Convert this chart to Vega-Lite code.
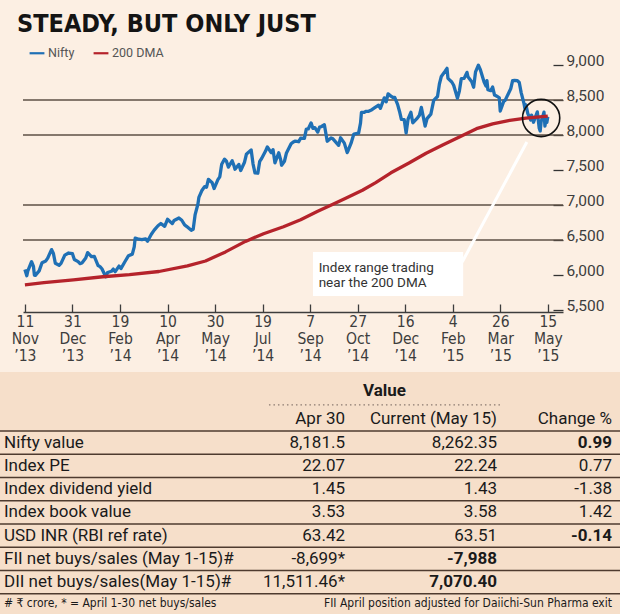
{
  "$schema": "https://vega.github.io/schema/vega-lite/v6.json",
  "width": 620,
  "height": 574,
  "autosize": {"type": "none"},
  "padding": {"top": 40, "left": 0, "right": 0, "bottom": 0},
  "background": "#fcefe3",
  "config": {"view": {"stroke": null}, "font": "Roboto, sans-serif"},
  "title": {"text": "STEADY, BUT ONLY JUST", "anchor": "start", "frame": "group", "dx": 17, "font": "DejaVu Sans Condensed, sans-serif", "fontSize": 25, "fontWeight": "bold", "color": "#141414", "offset": 3},
  "datasets": {
    "index": [
      {"date": "2013-11-11", "series": "Nifty", "value": 6078},
      {"date": "2013-11-13", "series": "Nifty", "value": 5990},
      {"date": "2013-11-14", "series": "Nifty", "value": 6056},
      {"date": "2013-11-18", "series": "Nifty", "value": 6190},
      {"date": "2013-11-20", "series": "Nifty", "value": 6122},
      {"date": "2013-11-21", "series": "Nifty", "value": 5999},
      {"date": "2013-11-22", "series": "Nifty", "value": 5995},
      {"date": "2013-11-26", "series": "Nifty", "value": 6059},
      {"date": "2013-11-29", "series": "Nifty", "value": 6176},
      {"date": "2013-12-03", "series": "Nifty", "value": 6201},
      {"date": "2013-12-05", "series": "Nifty", "value": 6241},
      {"date": "2013-12-09", "series": "Nifty", "value": 6363},
      {"date": "2013-12-11", "series": "Nifty", "value": 6307},
      {"date": "2013-12-13", "series": "Nifty", "value": 6168},
      {"date": "2013-12-17", "series": "Nifty", "value": 6139},
      {"date": "2013-12-19", "series": "Nifty", "value": 6166},
      {"date": "2013-12-23", "series": "Nifty", "value": 6284},
      {"date": "2013-12-27", "series": "Nifty", "value": 6314},
      {"date": "2013-12-31", "series": "Nifty", "value": 6304},
      {"date": "2014-01-02", "series": "Nifty", "value": 6221},
      {"date": "2014-01-06", "series": "Nifty", "value": 6191},
      {"date": "2014-01-08", "series": "Nifty", "value": 6162},
      {"date": "2014-01-10", "series": "Nifty", "value": 6171},
      {"date": "2014-01-14", "series": "Nifty", "value": 6242},
      {"date": "2014-01-16", "series": "Nifty", "value": 6320},
      {"date": "2014-01-20", "series": "Nifty", "value": 6262},
      {"date": "2014-01-23", "series": "Nifty", "value": 6266},
      {"date": "2014-01-27", "series": "Nifty", "value": 6135},
      {"date": "2014-01-29", "series": "Nifty", "value": 6120},
      {"date": "2014-01-31", "series": "Nifty", "value": 6089},
      {"date": "2014-02-04", "series": "Nifty", "value": 5974},
      {"date": "2014-02-06", "series": "Nifty", "value": 6036},
      {"date": "2014-02-10", "series": "Nifty", "value": 6053},
      {"date": "2014-02-12", "series": "Nifty", "value": 6084},
      {"date": "2014-02-14", "series": "Nifty", "value": 6048},
      {"date": "2014-02-18", "series": "Nifty", "value": 6127},
      {"date": "2014-02-20", "series": "Nifty", "value": 6091},
      {"date": "2014-02-24", "series": "Nifty", "value": 6186},
      {"date": "2014-02-28", "series": "Nifty", "value": 6276},
      {"date": "2014-03-04", "series": "Nifty", "value": 6298},
      {"date": "2014-03-06", "series": "Nifty", "value": 6401},
      {"date": "2014-03-07", "series": "Nifty", "value": 6527},
      {"date": "2014-03-11", "series": "Nifty", "value": 6511},
      {"date": "2014-03-14", "series": "Nifty", "value": 6504},
      {"date": "2014-03-18", "series": "Nifty", "value": 6516},
      {"date": "2014-03-20", "series": "Nifty", "value": 6483},
      {"date": "2014-03-24", "series": "Nifty", "value": 6583},
      {"date": "2014-03-27", "series": "Nifty", "value": 6641},
      {"date": "2014-03-31", "series": "Nifty", "value": 6704},
      {"date": "2014-04-03", "series": "Nifty", "value": 6736},
      {"date": "2014-04-07", "series": "Nifty", "value": 6695},
      {"date": "2014-04-10", "series": "Nifty", "value": 6796},
      {"date": "2014-04-15", "series": "Nifty", "value": 6734},
      {"date": "2014-04-17", "series": "Nifty", "value": 6779},
      {"date": "2014-04-22", "series": "Nifty", "value": 6815},
      {"date": "2014-04-25", "series": "Nifty", "value": 6782},
      {"date": "2014-04-28", "series": "Nifty", "value": 6715},
      {"date": "2014-04-30", "series": "Nifty", "value": 6696},
      {"date": "2014-05-05", "series": "Nifty", "value": 6638},
      {"date": "2014-05-07", "series": "Nifty", "value": 6652},
      {"date": "2014-05-09", "series": "Nifty", "value": 6858},
      {"date": "2014-05-12", "series": "Nifty", "value": 7014},
      {"date": "2014-05-13", "series": "Nifty", "value": 7109},
      {"date": "2014-05-16", "series": "Nifty", "value": 7203},
      {"date": "2014-05-19", "series": "Nifty", "value": 7263},
      {"date": "2014-05-21", "series": "Nifty", "value": 7253},
      {"date": "2014-05-23", "series": "Nifty", "value": 7367},
      {"date": "2014-05-27", "series": "Nifty", "value": 7318},
      {"date": "2014-05-29", "series": "Nifty", "value": 7235},
      {"date": "2014-06-02", "series": "Nifty", "value": 7362},
      {"date": "2014-06-04", "series": "Nifty", "value": 7402},
      {"date": "2014-06-06", "series": "Nifty", "value": 7583},
      {"date": "2014-06-09", "series": "Nifty", "value": 7655},
      {"date": "2014-06-11", "series": "Nifty", "value": 7626},
      {"date": "2014-06-13", "series": "Nifty", "value": 7542},
      {"date": "2014-06-17", "series": "Nifty", "value": 7632},
      {"date": "2014-06-19", "series": "Nifty", "value": 7558},
      {"date": "2014-06-20", "series": "Nifty", "value": 7511},
      {"date": "2014-06-24", "series": "Nifty", "value": 7580},
      {"date": "2014-06-26", "series": "Nifty", "value": 7493},
      {"date": "2014-06-30", "series": "Nifty", "value": 7611},
      {"date": "2014-07-02", "series": "Nifty", "value": 7725},
      {"date": "2014-07-04", "series": "Nifty", "value": 7751},
      {"date": "2014-07-07", "series": "Nifty", "value": 7787},
      {"date": "2014-07-09", "series": "Nifty", "value": 7585},
      {"date": "2014-07-11", "series": "Nifty", "value": 7460},
      {"date": "2014-07-14", "series": "Nifty", "value": 7454},
      {"date": "2014-07-16", "series": "Nifty", "value": 7624},
      {"date": "2014-07-18", "series": "Nifty", "value": 7664},
      {"date": "2014-07-22", "series": "Nifty", "value": 7767},
      {"date": "2014-07-24", "series": "Nifty", "value": 7830},
      {"date": "2014-07-28", "series": "Nifty", "value": 7748},
      {"date": "2014-07-30", "series": "Nifty", "value": 7791},
      {"date": "2014-08-01", "series": "Nifty", "value": 7602},
      {"date": "2014-08-05", "series": "Nifty", "value": 7747},
      {"date": "2014-08-07", "series": "Nifty", "value": 7649},
      {"date": "2014-08-08", "series": "Nifty", "value": 7568},
      {"date": "2014-08-11", "series": "Nifty", "value": 7625},
      {"date": "2014-08-13", "series": "Nifty", "value": 7739},
      {"date": "2014-08-18", "series": "Nifty", "value": 7874},
      {"date": "2014-08-20", "series": "Nifty", "value": 7897},
      {"date": "2014-08-22", "series": "Nifty", "value": 7913},
      {"date": "2014-08-26", "series": "Nifty", "value": 7904},
      {"date": "2014-08-28", "series": "Nifty", "value": 7954},
      {"date": "2014-09-01", "series": "Nifty", "value": 7951},
      {"date": "2014-09-03", "series": "Nifty", "value": 8083},
      {"date": "2014-09-05", "series": "Nifty", "value": 8086},
      {"date": "2014-09-08", "series": "Nifty", "value": 8173},
      {"date": "2014-09-10", "series": "Nifty", "value": 8094},
      {"date": "2014-09-12", "series": "Nifty", "value": 8105},
      {"date": "2014-09-15", "series": "Nifty", "value": 8042},
      {"date": "2014-09-17", "series": "Nifty", "value": 8114},
      {"date": "2014-09-19", "series": "Nifty", "value": 8121},
      {"date": "2014-09-22", "series": "Nifty", "value": 8146},
      {"date": "2014-09-25", "series": "Nifty", "value": 7911},
      {"date": "2014-09-29", "series": "Nifty", "value": 7958},
      {"date": "2014-10-01", "series": "Nifty", "value": 7945},
      {"date": "2014-10-07", "series": "Nifty", "value": 7852},
      {"date": "2014-10-09", "series": "Nifty", "value": 7960},
      {"date": "2014-10-13", "series": "Nifty", "value": 7884},
      {"date": "2014-10-16", "series": "Nifty", "value": 7748},
      {"date": "2014-10-17", "series": "Nifty", "value": 7779},
      {"date": "2014-10-20", "series": "Nifty", "value": 7879},
      {"date": "2014-10-23", "series": "Nifty", "value": 8014},
      {"date": "2014-10-28", "series": "Nifty", "value": 8027},
      {"date": "2014-10-30", "series": "Nifty", "value": 8170},
      {"date": "2014-10-31", "series": "Nifty", "value": 8322},
      {"date": "2014-11-03", "series": "Nifty", "value": 8324},
      {"date": "2014-11-05", "series": "Nifty", "value": 8338},
      {"date": "2014-11-07", "series": "Nifty", "value": 8337},
      {"date": "2014-11-11", "series": "Nifty", "value": 8362},
      {"date": "2014-11-14", "series": "Nifty", "value": 8390},
      {"date": "2014-11-18", "series": "Nifty", "value": 8425},
      {"date": "2014-11-20", "series": "Nifty", "value": 8382},
      {"date": "2014-11-24", "series": "Nifty", "value": 8530},
      {"date": "2014-11-26", "series": "Nifty", "value": 8475},
      {"date": "2014-11-28", "series": "Nifty", "value": 8588},
      {"date": "2014-12-01", "series": "Nifty", "value": 8556},
      {"date": "2014-12-03", "series": "Nifty", "value": 8537},
      {"date": "2014-12-05", "series": "Nifty", "value": 8538},
      {"date": "2014-12-08", "series": "Nifty", "value": 8438},
      {"date": "2014-12-10", "series": "Nifty", "value": 8340},
      {"date": "2014-12-12", "series": "Nifty", "value": 8224},
      {"date": "2014-12-15", "series": "Nifty", "value": 8219},
      {"date": "2014-12-17", "series": "Nifty", "value": 8029},
      {"date": "2014-12-19", "series": "Nifty", "value": 8225},
      {"date": "2014-12-22", "series": "Nifty", "value": 8324},
      {"date": "2014-12-24", "series": "Nifty", "value": 8174},
      {"date": "2014-12-29", "series": "Nifty", "value": 8246},
      {"date": "2014-12-31", "series": "Nifty", "value": 8283},
      {"date": "2015-01-02", "series": "Nifty", "value": 8395},
      {"date": "2015-01-06", "series": "Nifty", "value": 8127},
      {"date": "2015-01-08", "series": "Nifty", "value": 8234},
      {"date": "2015-01-12", "series": "Nifty", "value": 8299},
      {"date": "2015-01-15", "series": "Nifty", "value": 8494},
      {"date": "2015-01-19", "series": "Nifty", "value": 8550},
      {"date": "2015-01-21", "series": "Nifty", "value": 8729},
      {"date": "2015-01-23", "series": "Nifty", "value": 8836},
      {"date": "2015-01-27", "series": "Nifty", "value": 8911},
      {"date": "2015-01-29", "series": "Nifty", "value": 8952},
      {"date": "2015-01-30", "series": "Nifty", "value": 8809},
      {"date": "2015-02-03", "series": "Nifty", "value": 8757},
      {"date": "2015-02-05", "series": "Nifty", "value": 8711},
      {"date": "2015-02-09", "series": "Nifty", "value": 8526},
      {"date": "2015-02-11", "series": "Nifty", "value": 8627},
      {"date": "2015-02-13", "series": "Nifty", "value": 8805},
      {"date": "2015-02-16", "series": "Nifty", "value": 8809},
      {"date": "2015-02-19", "series": "Nifty", "value": 8895},
      {"date": "2015-02-20", "series": "Nifty", "value": 8833},
      {"date": "2015-02-24", "series": "Nifty", "value": 8762},
      {"date": "2015-02-26", "series": "Nifty", "value": 8683},
      {"date": "2015-02-28", "series": "Nifty", "value": 8902},
      {"date": "2015-03-03", "series": "Nifty", "value": 8996},
      {"date": "2015-03-05", "series": "Nifty", "value": 8937},
      {"date": "2015-03-09", "series": "Nifty", "value": 8756},
      {"date": "2015-03-11", "series": "Nifty", "value": 8699},
      {"date": "2015-03-12", "series": "Nifty", "value": 8776},
      {"date": "2015-03-13", "series": "Nifty", "value": 8647},
      {"date": "2015-03-16", "series": "Nifty", "value": 8633},
      {"date": "2015-03-18", "series": "Nifty", "value": 8685},
      {"date": "2015-03-20", "series": "Nifty", "value": 8571},
      {"date": "2015-03-23", "series": "Nifty", "value": 8550},
      {"date": "2015-03-25", "series": "Nifty", "value": 8530},
      {"date": "2015-03-26", "series": "Nifty", "value": 8342},
      {"date": "2015-03-30", "series": "Nifty", "value": 8492},
      {"date": "2015-03-31", "series": "Nifty", "value": 8491},
      {"date": "2015-04-06", "series": "Nifty", "value": 8660},
      {"date": "2015-04-08", "series": "Nifty", "value": 8778},
      {"date": "2015-04-10", "series": "Nifty", "value": 8780},
      {"date": "2015-04-13", "series": "Nifty", "value": 8778},
      {"date": "2015-04-15", "series": "Nifty", "value": 8750},
      {"date": "2015-04-17", "series": "Nifty", "value": 8606},
      {"date": "2015-04-20", "series": "Nifty", "value": 8448},
      {"date": "2015-04-21", "series": "Nifty", "value": 8377},
      {"date": "2015-04-22", "series": "Nifty", "value": 8429},
      {"date": "2015-04-24", "series": "Nifty", "value": 8305},
      {"date": "2015-04-27", "series": "Nifty", "value": 8213},
      {"date": "2015-04-28", "series": "Nifty", "value": 8285},
      {"date": "2015-04-30", "series": "Nifty", "value": 8182},
      {"date": "2015-05-04", "series": "Nifty", "value": 8331},
      {"date": "2015-05-06", "series": "Nifty", "value": 8097},
      {"date": "2015-05-07", "series": "Nifty", "value": 8057},
      {"date": "2015-05-08", "series": "Nifty", "value": 8191},
      {"date": "2015-05-11", "series": "Nifty", "value": 8326},
      {"date": "2015-05-12", "series": "Nifty", "value": 8127},
      {"date": "2015-05-13", "series": "Nifty", "value": 8224},
      {"date": "2015-05-14", "series": "Nifty", "value": 8179},
      {"date": "2015-05-15", "series": "Nifty", "value": 8262},
      {"date": "2013-11-11", "series": "200 DMA", "value": 5860},
      {"date": "2013-12-01", "series": "200 DMA", "value": 5890},
      {"date": "2014-01-01", "series": "200 DMA", "value": 5930},
      {"date": "2014-02-01", "series": "200 DMA", "value": 5975},
      {"date": "2014-03-01", "series": "200 DMA", "value": 6005},
      {"date": "2014-04-01", "series": "200 DMA", "value": 6050},
      {"date": "2014-05-01", "series": "200 DMA", "value": 6130},
      {"date": "2014-05-20", "series": "200 DMA", "value": 6200},
      {"date": "2014-06-10", "series": "200 DMA", "value": 6330},
      {"date": "2014-07-01", "series": "200 DMA", "value": 6480},
      {"date": "2014-07-20", "series": "200 DMA", "value": 6590},
      {"date": "2014-08-10", "series": "200 DMA", "value": 6690},
      {"date": "2014-08-28", "series": "200 DMA", "value": 6790},
      {"date": "2014-09-15", "series": "200 DMA", "value": 6910},
      {"date": "2014-10-01", "series": "200 DMA", "value": 7010},
      {"date": "2014-10-15", "series": "200 DMA", "value": 7100},
      {"date": "2014-11-01", "series": "200 DMA", "value": 7210},
      {"date": "2014-11-15", "series": "200 DMA", "value": 7320},
      {"date": "2014-12-01", "series": "200 DMA", "value": 7460},
      {"date": "2014-12-20", "series": "200 DMA", "value": 7600},
      {"date": "2015-01-07", "series": "200 DMA", "value": 7740},
      {"date": "2015-01-25", "series": "200 DMA", "value": 7860},
      {"date": "2015-02-11", "series": "200 DMA", "value": 7970},
      {"date": "2015-03-01", "series": "200 DMA", "value": 8090},
      {"date": "2015-03-18", "series": "200 DMA", "value": 8160},
      {"date": "2015-04-05", "series": "200 DMA", "value": 8210},
      {"date": "2015-04-22", "series": "200 DMA", "value": 8240},
      {"date": "2015-05-15", "series": "200 DMA", "value": 8270}
    ],
    "table": [
      {"row": 1, "metric": "Nifty value", "apr": "8,181.5", "cur": "8,262.35", "chg": "0.99"},
      {"row": 2, "metric": "Index PE", "apr": "22.07", "cur": "22.24", "chg": "0.77"},
      {"row": 3, "metric": "Index dividend yield", "apr": "1.45", "cur": "1.43", "chg": "-1.38"},
      {"row": 4, "metric": "Index book value", "apr": "3.53", "cur": "3.58", "chg": "1.42"},
      {"row": 5, "metric": "USD INR (RBI ref rate)", "apr": "63.42", "cur": "63.51", "chg": "-0.14"},
      {"row": 6, "metric": "FII net buys/sales (May 1-15)#", "apr": "-8,699*", "cur": "-7,988", "chg": ""},
      {"row": 7, "metric": "DII net buys/sales(May 1-15)#", "apr": "11,511.46*", "cur": "7,070.40", "chg": ""}
    ],
    "headers": [
      {"col": 1, "label": "Apr 30"},
      {"col": 2, "label": "Current (May 15)"},
      {"col": 3, "label": "Change %"}
    ]
  },
  "resolve": {"scale": {"x": "independent", "y": "independent", "color": "independent"}},
  "layer": [
    {
      "layer": [
        {
          "data": {"values": [{"level": 6500}, {"level": 7000}, {"level": 8000}, {"level": 8500}]},
          "mark": {"type": "rule", "color": "#5e5046", "strokeWidth": 1.5},
          "encoding": {
            "x": {"datum": {"year": 2013, "month": 11, "date": 9, "utc": true}, "type": "temporal", "scale": {"type": "utc", "domain": [{"year": 2013, "month": 11, "date": 9, "utc": true}, {"year": 2015, "month": 5, "date": 31, "utc": true}], "range": [23, 563]}},
            "x2": {"datum": {"year": 2015, "month": 5, "date": 31, "utc": true}},
            "y": {"field": "level", "type": "quantitative", "scale": {"domain": [5500, 9000], "range": [270, 25], "nice": false, "zero": false}}
          }
        },
        {
          "data": {"name": "index"},
          "mark": {"type": "line", "strokeWidth": 3.3, "strokeJoin": "round"},
          "encoding": {
            "x": {"field": "date", "type": "temporal", "scale": {"type": "utc", "domain": [{"year": 2013, "month": 11, "date": 9, "utc": true}, {"year": 2015, "month": 5, "date": 31, "utc": true}], "range": [23, 563]},
              "axis": {"orient": "bottom", "offset": -302, "title": null, "grid": false,
                "values": [{"year": 2013, "month": 11, "date": 11, "utc": true}, {"year": 2013, "month": 12, "date": 31, "utc": true}, {"year": 2014, "month": 2, "date": 19, "utc": true}, {"year": 2014, "month": 4, "date": 10, "utc": true}, {"year": 2014, "month": 5, "date": 30, "utc": true}, {"year": 2014, "month": 7, "date": 19, "utc": true}, {"year": 2014, "month": 9, "date": 7, "utc": true}, {"year": 2014, "month": 10, "date": 27, "utc": true}, {"year": 2014, "month": 12, "date": 16, "utc": true}, {"year": 2015, "month": 2, "date": 4, "utc": true}, {"year": 2015, "month": 3, "date": 26, "utc": true}, {"year": 2015, "month": 5, "date": 15, "utc": true}],
                "labelExpr": "[utcFormat(datum.value, '%-d'), utcFormat(datum.value, '%b'), '\u2019' + utcFormat(datum.value, '%y')]",
                "labelFont": "DejaVu Sans Condensed, sans-serif", "labelFontSize": 15.5, "labelLineHeight": 17, "labelColor": "#3d3d3d", "labelPadding": 10, "labelAngle": 0, "labelOverlap": false, "labelFlush": false, "labelBound": false,
                "tickSize": -8, "tickColor": "#3d3d3d", "tickWidth": 1.3, "domainColor": "#3d3d3d", "domainWidth": 1.5}},
            "y": {"field": "value", "type": "quantitative", "scale": {"domain": [5500, 9000], "range": [270, 25], "nice": false, "zero": false},
              "axis": {"orient": "right", "offset": -67, "title": null, "grid": false, "domain": false, "values": [5500, 6000, 6500, 7000, 7500, 8000, 8500, 9000], "format": ",.0f",
                "tickSize": 10, "tickColor": "#333333", "tickWidth": 1.3, "labelPadding": 3, "labelBaseline": "alphabetic", "labelAlign": "left", "labelFont": "Roboto", "labelFontSize": 15.5, "labelColor": "#3d3d3d", "labelFlush": false, "labelOverlap": false, "labelBound": false}},
            "color": {"field": "series", "type": "nominal", "scale": {"domain": ["Nifty", "200 DMA"], "range": ["#1f70b5", "#b5232b"]},
              "legend": {"orient": "none", "legendX": 28, "legendY": 4, "direction": "horizontal", "title": null, "symbolType": "stroke", "symbolSize": 220, "symbolStrokeWidth": 2.2, "labelFont": "Roboto", "labelFontSize": 12.5, "labelColor": "#555555", "columnPadding": 14, "labelOffset": 2, "padding": 0}}
          }
        },
        {
          "data": {"values": [{}]},
          "mark": {"type": "rule", "color": "#ffffff", "strokeWidth": 3},
          "encoding": {
            "x": {"datum": {"year": 2015, "month": 2, "date": 14, "utc": true}, "type": "temporal"},
            "x2": {"datum": {"year": 2015, "month": 4, "date": 23, "utc": true}},
            "y": {"datum": 6186, "type": "quantitative"},
            "y2": {"datum": 7900}
          }
        },
        {
          "data": {"values": [{}]},
          "mark": {"type": "rect", "fill": "#ffffff"},
          "encoding": {
            "x": {"datum": {"year": 2014, "month": 9, "date": 10, "utc": true}, "type": "temporal"},
            "x2": {"datum": {"year": 2015, "month": 2, "date": 15, "utc": true}},
            "y": {"datum": 6329, "type": "quantitative"},
            "y2": {"datum": 5700}
          }
        },
        {
          "data": {"values": [{}]},
          "mark": {"type": "text", "text": ["Index range trading", "near the 200 DMA"], "align": "left", "baseline": "alphabetic", "font": "Roboto", "fontSize": 13.5, "lineHeight": 15, "color": "#333333"},
          "encoding": {
            "x": {"datum": {"year": 2014, "month": 9, "date": 16, "utc": true}, "type": "temporal"},
            "y": {"datum": 6050, "type": "quantitative"}
          }
        },
        {
          "data": {"values": [{}]},
          "mark": {"type": "point", "shape": "circle", "filled": false, "stroke": "#111111", "strokeWidth": 1.6, "size": 1385, "opacity": 1},
          "encoding": {
            "x": {"datum": {"year": 2015, "month": 5, "date": 8, "utc": true}, "type": "temporal"},
            "y": {"datum": 8243, "type": "quantitative"}
          }
        }
      ]
    },
    {
      "layer": [
        {
          "data": {"values": [{}]},
          "mark": {"type": "rect", "fill": "#f6dfca"},
          "encoding": {
            "y": {"datum": -2.03, "type": "quantitative", "scale": {"type": "linear", "domain": [0, 8], "range": [379.25, 565.25], "nice": false, "zero": false}, "axis": null},
            "y2": {"datum": 8.6}
          }
        },
        {
          "data": {"values": [{}]},
          "mark": {"type": "rule", "color": "#4e3b2f", "strokeWidth": 1.5},
          "encoding": {
            "y": {"datum": 0.5, "type": "quantitative", "scale": {"type": "linear", "domain": [0, 8], "range": [379.25, 565.25], "nice": false, "zero": false}, "axis": null}
          }
        },
        {
          "data": {"values": [{}]},
          "mark": {"type": "rule", "color": "#8a7a70", "strokeWidth": 1.2, "strokeDash": [1.5, 3]},
          "encoding": {
            "x": {"datum": 0.777, "type": "quantitative", "scale": {"type": "linear", "domain": [0, 1, 2, 3], "range": [4, 345, 497, 612], "nice": false, "zero": false}, "axis": null},
            "x2": {"datum": 2.04},
            "y": {"datum": -0.62, "type": "quantitative", "scale": {"type": "linear", "domain": [0, 8], "range": [379.25, 565.25], "nice": false, "zero": false}, "axis": null}
          }
        },
        {
          "data": {"values": [{}]},
          "mark": {"type": "text", "text": "Value", "fontWeight": "bold", "align": "center", "baseline": "middle", "fontSize": 17, "color": "#1a1a1a"},
          "encoding": {
            "x": {"datum": 1.26, "type": "quantitative", "scale": {"type": "linear", "domain": [0, 1, 2, 3], "range": [4, 345, 497, 612], "nice": false, "zero": false}, "axis": null},
            "y": {"datum": -1.2, "type": "quantitative", "scale": {"type": "linear", "domain": [0, 8], "range": [379.25, 565.25], "nice": false, "zero": false}, "axis": null}
          }
        },
        {
          "data": {"name": "headers"},
          "mark": {"type": "text", "align": "right", "baseline": "middle", "fontSize": 17, "color": "#1a1a1a"},
          "encoding": {
            "x": {"field": "col", "type": "quantitative", "scale": {"type": "linear", "domain": [0, 1, 2, 3], "range": [4, 345, 497, 612], "nice": false, "zero": false}, "axis": null},
            "y": {"datum": 0, "type": "quantitative", "scale": {"type": "linear", "domain": [0, 8], "range": [379.25, 565.25], "nice": false, "zero": false}, "axis": null},
            "text": {"field": "label"}
          }
        },
        {
          "data": {"name": "table"},
          "mark": {"type": "text", "align": "left", "baseline": "middle", "fontSize": 17, "color": "#1a1a1a"},
          "encoding": {
            "x": {"datum": 0, "type": "quantitative", "scale": {"type": "linear", "domain": [0, 1, 2, 3], "range": [4, 345, 497, 612], "nice": false, "zero": false}, "axis": null},
            "y": {"field": "row", "type": "quantitative", "scale": {"type": "linear", "domain": [0, 8], "range": [379.25, 565.25], "nice": false, "zero": false}, "axis": null},
            "text": {"field": "metric"}
          }
        },
        {
          "data": {"name": "table"},
          "mark": {"type": "text", "align": "right", "baseline": "middle", "fontSize": 17, "color": "#1a1a1a"},
          "encoding": {
            "x": {"datum": 1, "type": "quantitative", "scale": {"type": "linear", "domain": [0, 1, 2, 3], "range": [4, 345, 497, 612], "nice": false, "zero": false}, "axis": null},
            "y": {"field": "row", "type": "quantitative", "scale": {"type": "linear", "domain": [0, 8], "range": [379.25, 565.25], "nice": false, "zero": false}, "axis": null},
            "text": {"field": "apr"}
          }
        },
        {
          "data": {"name": "table"},
          "transform": [{"filter": "datum.row < 6"}],
          "mark": {"type": "text", "align": "right", "baseline": "middle", "fontSize": 17, "color": "#1a1a1a"},
          "encoding": {
            "x": {"datum": 2, "type": "quantitative", "scale": {"type": "linear", "domain": [0, 1, 2, 3], "range": [4, 345, 497, 612], "nice": false, "zero": false}, "axis": null},
            "y": {"field": "row", "type": "quantitative", "scale": {"type": "linear", "domain": [0, 8], "range": [379.25, 565.25], "nice": false, "zero": false}, "axis": null},
            "text": {"field": "cur"}
          }
        },
        {
          "data": {"name": "table"},
          "transform": [{"filter": "datum.row >= 6"}],
          "mark": {"type": "text", "align": "right", "baseline": "middle", "fontSize": 17, "fontWeight": "bold", "color": "#1a1a1a"},
          "encoding": {
            "x": {"datum": 2, "type": "quantitative", "scale": {"type": "linear", "domain": [0, 1, 2, 3], "range": [4, 345, 497, 612], "nice": false, "zero": false}, "axis": null},
            "y": {"field": "row", "type": "quantitative", "scale": {"type": "linear", "domain": [0, 8], "range": [379.25, 565.25], "nice": false, "zero": false}, "axis": null},
            "text": {"field": "cur"}
          }
        },
        {
          "data": {"name": "table"},
          "transform": [{"filter": "datum.row != 1 && datum.row != 5"}],
          "mark": {"type": "text", "align": "right", "baseline": "middle", "fontSize": 17, "color": "#1a1a1a"},
          "encoding": {
            "x": {"datum": 3, "type": "quantitative", "scale": {"type": "linear", "domain": [0, 1, 2, 3], "range": [4, 345, 497, 612], "nice": false, "zero": false}, "axis": null},
            "y": {"field": "row", "type": "quantitative", "scale": {"type": "linear", "domain": [0, 8], "range": [379.25, 565.25], "nice": false, "zero": false}, "axis": null},
            "text": {"field": "chg"}
          }
        },
        {
          "data": {"name": "table"},
          "transform": [{"filter": "datum.row == 1 || datum.row == 5"}],
          "mark": {"type": "text", "align": "right", "baseline": "middle", "fontSize": 17, "fontWeight": "bold", "color": "#1a1a1a"},
          "encoding": {
            "x": {"datum": 3, "type": "quantitative", "scale": {"type": "linear", "domain": [0, 1, 2, 3], "range": [4, 345, 497, 612], "nice": false, "zero": false}, "axis": null},
            "y": {"field": "row", "type": "quantitative", "scale": {"type": "linear", "domain": [0, 8], "range": [379.25, 565.25], "nice": false, "zero": false}, "axis": null},
            "text": {"field": "chg"}
          }
        },
        {
          "data": {"values": [{}]},
          "mark": {"type": "text", "text": "# \u20b9 crore, * = April 1-30 net buys/sales", "align": "left", "baseline": "middle", "font": "DejaVu Sans Condensed, sans-serif", "fontSize": 12, "color": "#1a1a1a"},
          "encoding": {
            "x": {"datum": 0, "type": "quantitative", "scale": {"type": "linear", "domain": [0, 1, 2, 3], "range": [4, 345, 497, 612], "nice": false, "zero": false}, "axis": null},
            "y": {"datum": 7.92, "type": "quantitative", "scale": {"type": "linear", "domain": [0, 8], "range": [379.25, 565.25], "nice": false, "zero": false}, "axis": null}
          }
        },
        {
          "data": {"values": [{}]},
          "mark": {"type": "text", "text": "FII April position adjusted for Daiichi-Sun Pharma exit", "align": "right", "baseline": "middle", "font": "DejaVu Sans Condensed, sans-serif", "fontSize": 12, "color": "#1a1a1a"},
          "encoding": {
            "x": {"datum": 3, "type": "quantitative", "scale": {"type": "linear", "domain": [0, 1, 2, 3], "range": [4, 345, 497, 612], "nice": false, "zero": false}, "axis": null},
            "y": {"datum": 7.92, "type": "quantitative", "scale": {"type": "linear", "domain": [0, 8], "range": [379.25, 565.25], "nice": false, "zero": false}, "axis": null}
          }
        }
      ]
    },
    {
      "data": {"name": "table"},
      "mark": {"type": "rule", "color": "#4e3b2f", "strokeWidth": 1.5},
      "encoding": {
        "y": {"field": "row", "type": "quantitative", "scale": {"type": "linear", "domain": [0, 8], "range": [390.875, 576.875], "nice": false, "zero": false}, "axis": null}
      }
    }
  ]
}
